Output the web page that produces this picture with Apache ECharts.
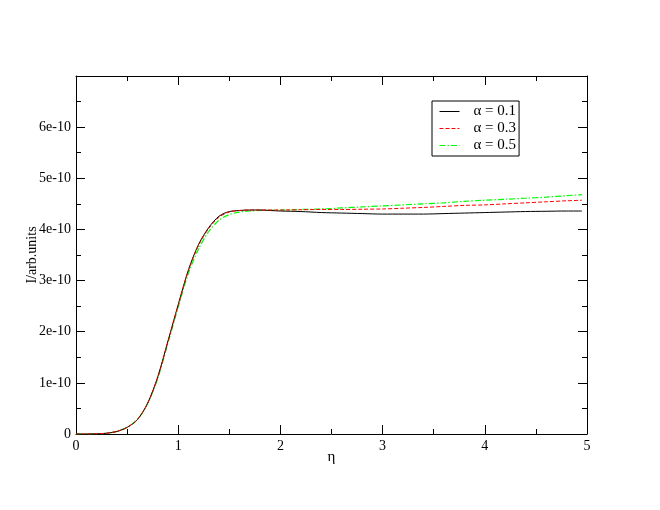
<!DOCTYPE html>
<html>
<head>
<meta charset="utf-8">
<script src="https://cdn.jsdelivr.net/npm/echarts@6/dist/echarts.min.js"></script>
<style>html,body{margin:0;padding:0;background:#fff;}#c{width:660px;height:510px;}</style>
</head>
<body>
<div id="c"></div>
<script>
// values in units of 1e-10 (arb. units)
const etaA = [0,0.1,0.2,0.3,0.4,0.5,0.6,0.7,0.8,0.9,1.0,1.1,1.2,1.3,1.4,1.5,1.6,1.7,1.8,1.9,2.0,2.2,2.4,2.6,2.8,3.0,3.2,3.4,3.6,3.8,4.0,4.2,4.4,4.6,4.8,4.95];
const alpha01 = [0,0.0,0.003,0.015,0.05,0.13,0.28,0.60,1.12,1.82,2.53,3.21,3.71,4.04,4.26,4.35,4.37,4.38,4.38,4.37,4.36,4.35,4.33,4.32,4.31,4.30,4.30,4.30,4.31,4.32,4.33,4.34,4.35,4.355,4.36,4.36];
const alpha03 = [0,0.0,0.003,0.015,0.05,0.13,0.28,0.59,1.10,1.80,2.51,3.19,3.69,4.02,4.24,4.34,4.37,4.38,4.38,4.38,4.38,4.385,4.39,4.39,4.395,4.40,4.415,4.43,4.45,4.47,4.48,4.50,4.52,4.54,4.56,4.57];
const alpha05 = [0,0.0,0.003,0.015,0.05,0.13,0.28,0.59,1.09,1.78,2.48,3.14,3.62,3.96,4.18,4.29,4.34,4.36,4.37,4.375,4.38,4.39,4.40,4.42,4.44,4.46,4.48,4.50,4.52,4.55,4.57,4.59,4.61,4.63,4.66,4.68];
const seriesNames = ['\u03b1 = 0.1','\u03b1 = 0.3','\u03b1 = 0.5'];
const xTicks = [0,1,2,3,4,5];
const yTickLabels = ['0','1e-10','2e-10','3e-10','4e-10','5e-10','6e-10'];
const UNIT = 1e-10;

function pairs(xs, ys){ return xs.map((x,i)=>[x, ys[i]*UNIT]); }

const font = '"Liberation Serif", "Times New Roman", serif';
const chart = echarts.init(document.getElementById('c'), null, {renderer:'canvas'});
const axisCommon = {
  axisLine:{show:true, onZero:false, lineStyle:{color:'#000', width:1}},
  axisTick:{show:true, inside:true, length:9, lineStyle:{color:'#000', width:1}},
  minorTick:{show:true, splitNumber:2, length:5, lineStyle:{color:'#000', width:1}},
  splitLine:{show:false}
};
chart.setOption({
  animation:false,
  backgroundColor:'#fff',
  grid:{left:76, right:73, top:76, bottom:76, containLabel:false},
  legend:{
    orient:'vertical', left:432, top:101,
    data:seriesNames,
    borderColor:'#000', borderWidth:1, backgroundColor:'#fff',
    padding:[3,3,3,7], itemGap:2, itemWidth:20, itemHeight:15,
    itemStyle:{opacity:0},
    lineStyle:{width:1},
    textStyle:{fontFamily:font, fontSize:15, lineHeight:15, color:'#000', padding:[0,0,0,9]}
  },
  xAxis:[
    Object.assign({type:'value', min:0, max:5, interval:1, position:'bottom',
      name:'\u03b7', nameLocation:'middle', nameGap:16, nameMoveOverlap:false,
      nameTextStyle:{fontFamily:font, fontSize:15, color:'#000'},
      axisLabel:{fontFamily:font, fontSize:14, color:'#000', margin:5,
        formatter:(v)=>String(xTicks[Math.round(v)])}}, axisCommon),
    Object.assign({type:'value', min:0, max:5, interval:1, position:'top',
      axisLabel:{show:false}}, axisCommon)
  ],
  yAxis:[
    Object.assign({type:'value', min:0, max:7*UNIT, interval:UNIT, position:'left',
      name:'I/arb.units', nameLocation:'middle', nameGap:37, nameRotate:90, nameMoveOverlap:false,
      nameTextStyle:{fontFamily:font, fontSize:14, color:'#000'},
      axisLabel:{fontFamily:font, fontSize:14, color:'#000', margin:5, showMaxLabel:false,
        formatter:(v)=>{const k=Math.round(v/UNIT); return yTickLabels[k]!==undefined?yTickLabels[k]:'';}}}, axisCommon),
    Object.assign({type:'value', min:0, max:7*UNIT, interval:UNIT, position:'right',
      axisLabel:{show:false}}, axisCommon)
  ],
  series:[
    {name:seriesNames[0], type:'line', data:pairs(etaA, alpha01), showSymbol:false, symbol:'none', smooth:0.3,
      lineStyle:{color:'#000', width:1, type:'solid'}, itemStyle:{color:'#000'}, z:3},
    {name:seriesNames[1], type:'line', data:pairs(etaA, alpha03), showSymbol:false, symbol:'none', smooth:0.3,
      lineStyle:{color:'#ff0000', width:1, type:[4,2]}, itemStyle:{color:'#ff0000'}, z:4},
    {name:seriesNames[2], type:'line', data:pairs(etaA, alpha05), showSymbol:false, symbol:'none', smooth:0.3,
      lineStyle:{color:'#00ff00', width:1.2, type:[6,2,1.5,2]}, itemStyle:{color:'#00ff00'}, z:2}
  ]
});
</script>
</body>
</html>
